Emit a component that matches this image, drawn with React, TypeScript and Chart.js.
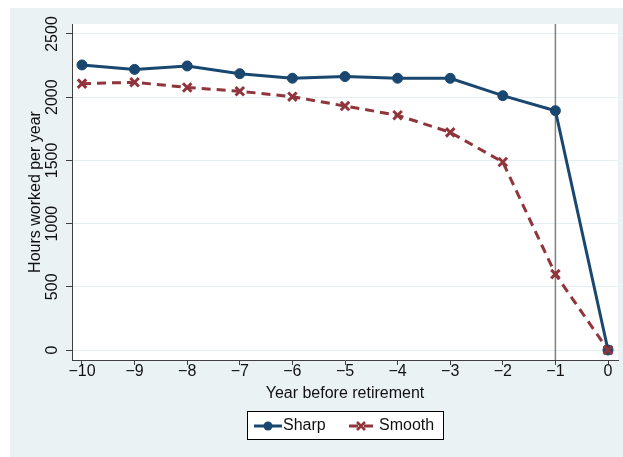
import React, { useEffect, useRef } from 'react';
import { Chart, registerables } from 'chart.js';

Chart.register(...registerables);

// ---- data ----
const years = [-10, -9, -8, -7, -6, -5, -4, -3, -2, -1, 0];
const xTickLabels = ['−10', '−9', '−8', '−7', '−6', '−5', '−4', '−3', '−2', '−1', '0'];
const sharp = [2255, 2220, 2247, 2186, 2150, 2163, 2150, 2149, 2012, 1893, 0];
const smooth = [2107, 2118, 2077, 2047, 2004, 1930, 1857, 1722, 1487, 600, 0];
const yTicks = [0, 500, 1000, 1500, 2000, 2500];
const yTickLabels = ['0', '500', '1000', '1500', '2000', '2500'];
const seriesNames = ['Sharp', 'Smooth'];
const retirementMarker = -1;
const xTitle = 'Year before retirement';
const yTitle = 'Hours worked per year';

// ---- styles ----
const NAVY = '#1A476F';
const MAROON = '#90353B';
const BG = '#EAF2F3';
const GRID = '#E4EDEF';
const AXIS = '#3f3f3f';
const TEXT = '#111111';
const FONT = '"Liberation Sans", Arial, Helvetica, sans-serif';

const W = 613;
const H = 449;

const overlay = {
  id: 'overlay',
  beforeDraw(chart: any) {
    const { ctx, chartArea } = chart;
    ctx.save();
    ctx.fillStyle = '#ffffff';
    ctx.fillRect(chartArea.left, chartArea.top, chartArea.right - chartArea.left, chartArea.bottom - chartArea.top);
    ctx.restore();
  },
  beforeDatasetsDraw(chart: any) {
    const { ctx, chartArea, scales } = chart;
    const px = scales.x.getPixelForValue(retirementMarker);
    ctx.save();
    ctx.strokeStyle = '#808080';
    ctx.lineWidth = 1.5;
    ctx.beginPath();
    ctx.moveTo(px, chartArea.top);
    ctx.lineTo(px, chartArea.bottom);
    ctx.stroke();
    ctx.restore();
  },
  afterDraw(chart: any) {
    const { ctx, chartArea, scales } = chart;
    const xs = scales.x;
    const ys = scales.y;
    ctx.save();
    ctx.fillStyle = TEXT;
    ctx.font = `16px ${FONT}`;
    ctx.textAlign = 'center';
    ctx.textBaseline = 'middle';
    // x tick labels
    years.forEach((v, i) => {
      ctx.fillText(xTickLabels[i], xs.getPixelForValue(v), chartArea.bottom + 12);
    });
    // x title
    ctx.fillText(xTitle, (chartArea.left + chartArea.right) / 2, chartArea.bottom + 34);
    // y tick labels (rotated)
    yTicks.forEach((v, i) => {
      ctx.save();
      ctx.translate(chartArea.left - 19, ys.getPixelForValue(v));
      ctx.rotate(-Math.PI / 2);
      ctx.fillText(yTickLabels[i], 0, 0);
      ctx.restore();
    });
    // y title
    ctx.save();
    ctx.translate(chartArea.left - 36, (chartArea.top + chartArea.bottom) / 2);
    ctx.rotate(-Math.PI / 2);
    ctx.fillText(yTitle, 0, 0);
    ctx.restore();

    // legend
    const ds = chart.data.datasets;
    const bx = 237, by = 403, bw = 197, bh = 29;
    ctx.fillStyle = '#ffffff';
    ctx.fillRect(bx, by, bw, bh);
    ctx.strokeStyle = '#000000';
    ctx.lineWidth = 1;
    ctx.strokeRect(bx + 0.5, by + 0.5, bw - 1, bh - 1);
    const cy = by + 15;
    // Sharp sample
    ctx.strokeStyle = ds[0].borderColor;
    ctx.lineWidth = 3;
    ctx.beginPath();
    ctx.moveTo(244, cy);
    ctx.lineTo(272, cy);
    ctx.stroke();
    ctx.fillStyle = ds[0].borderColor;
    ctx.beginPath();
    ctx.arc(258, cy, 4.5, 0, Math.PI * 2);
    ctx.fill();
    // Smooth sample
    ctx.strokeStyle = ds[1].borderColor;
    ctx.lineWidth = 3;
    ctx.setLineDash([9, 6]);
    ctx.beginPath();
    ctx.moveTo(339, cy);
    ctx.lineTo(363, cy);
    ctx.stroke();
    ctx.setLineDash([]);
    ctx.lineWidth = 2.5;
    ctx.beginPath();
    ctx.moveTo(347, cy - 4);
    ctx.lineTo(355, cy + 4);
    ctx.moveTo(347, cy + 4);
    ctx.lineTo(355, cy - 4);
    ctx.stroke();
    // legend texts
    ctx.fillStyle = TEXT;
    ctx.textAlign = 'left';
    ctx.fillText(seriesNames[0], 273, cy);
    ctx.fillText(seriesNames[1], 369, cy);
    ctx.restore();
  },
};

const topFragments = [
  { text: 'Changing', left: 40 },
  { text: '[baseline]', left: 214 },
  { text: 'by', left: 357 },
  { text: 'labor supply', left: 427 },
];

export default function App() {
  const ref = useRef<HTMLCanvasElement>(null);

  useEffect(() => {
    document.body.style.margin = '0';
    document.body.style.overflow = 'hidden';
    const canvas = ref.current;
    if (!canvas) return;
    const chart = new Chart(canvas, {
      type: 'line',
      data: {
        datasets: [
          {
            label: seriesNames[0],
            data: years.map((x, i) => ({ x, y: sharp[i] })),
            borderColor: NAVY,
            backgroundColor: NAVY,
            borderWidth: 3,
            pointStyle: 'circle',
            pointRadius: 5,
            pointBorderWidth: 1,
            pointBackgroundColor: NAVY,
            pointBorderColor: NAVY,
            tension: 0,
            order: 2,
          },
          {
            label: seriesNames[1],
            data: years.map((x, i) => ({ x, y: smooth[i] })),
            borderColor: MAROON,
            backgroundColor: MAROON,
            borderWidth: 3,
            borderDash: [9, 6],
            pointStyle: 'crossRot',
            pointRadius: 6,
            pointBorderWidth: 3,
            pointBackgroundColor: MAROON,
            pointBorderColor: MAROON,
            tension: 0,
            order: 1,
          },
        ],
      },
      options: {
        responsive: false,
        animation: false,
        devicePixelRatio: 1,
        layout: { autoPadding: false, padding: { left: 0, top: 16, right: 5, bottom: H - 352 - 50 } },
        plugins: {
          legend: { display: false },
          tooltip: { enabled: false },
          title: { display: false },
        },
        scales: {
          x: {
            type: 'linear',
            min: -10.19,
            max: 0.19,
            afterBuildTicks: (s: any) => {
              s.ticks = years.map((v) => ({ value: v }));
            },
            afterFit: (s: any) => {
              s.height = 50;
            },
            ticks: { display: false },
            grid: {
              drawOnChartArea: false,
              drawTicks: true,
              tickLength: 5,
              tickColor: AXIS,
              tickWidth: 1,
            },
            border: { display: true, color: AXIS, width: 1 },
          },
          y: {
            type: 'linear',
            min: -79,
            max: 2579,
            afterBuildTicks: (s: any) => {
              s.ticks = yTicks.map((v) => ({ value: v }));
            },
            afterFit: (s: any) => {
              s.width = 62;
            },
            ticks: { display: false },
            grid: {
              color: GRID,
              lineWidth: 1,
              drawTicks: true,
              tickLength: 6,
              tickColor: AXIS,
              tickWidth: 1,
            },
            border: { display: true, color: AXIS, width: 1 },
          },
        },
      },
      plugins: [overlay],
    } as any);
    return () => chart.destroy();
  }, []);

  return (
    <div style={{ position: 'relative', width: 623, height: 457, overflow: 'hidden', background: '#ffffff' }}>
      {topFragments.map((f, i) => (
        <span
          key={i}
          style={{
            position: 'absolute',
            left: f.left,
            top: -23,
            fontFamily: '"Liberation Serif", "Times New Roman", serif',
            fontSize: 22,
            lineHeight: '22px',
            color: '#000',
            whiteSpace: 'nowrap',
          }}
        >
          {f.text}
        </span>
      ))}
      <div style={{ position: 'absolute', left: 10, top: 8, width: W, height: H, background: BG }}>
        <canvas ref={ref} width={W} height={H} style={{ display: 'block', width: W, height: H }} />
      </div>
    </div>
  );
}
